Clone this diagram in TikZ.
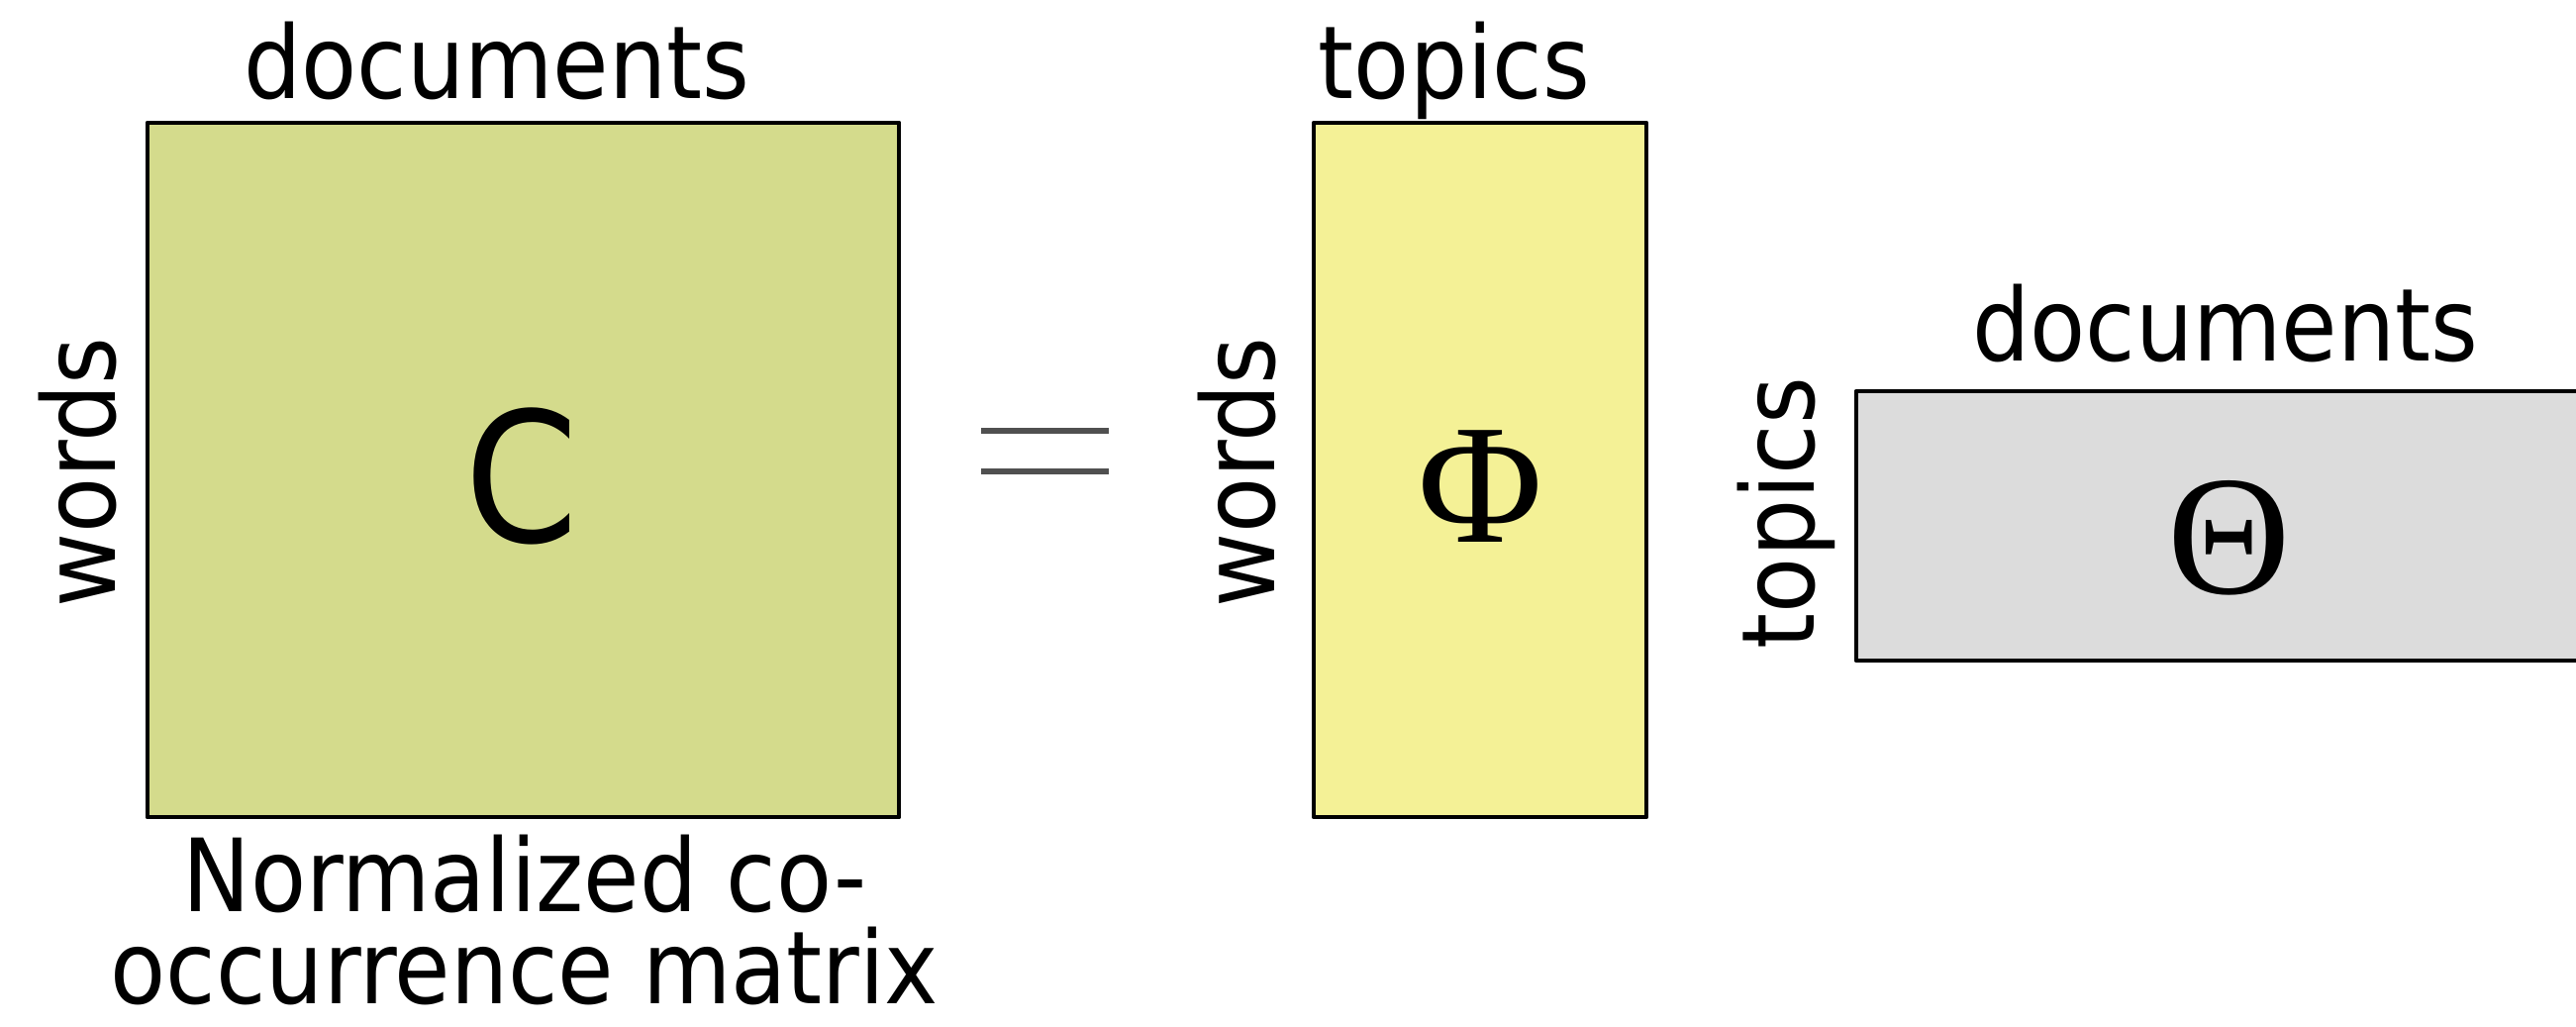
\documentclass[tikz,border=0pt]{standalone}
\usepackage{fontspec}
\setmainfont{DejaVu Sans Condensed}
\newfontfamily\greekfont{Liberation Serif}
\usetikzlibrary{positioning}

\definecolor{cfill}{HTML}{D4DB8C}
\definecolor{phifill}{HTML}{F4F196}
\definecolor{thetafill}{HTML}{DCDCDC}
\definecolor{eqgray}{HTML}{505050}

\tikzset{
  matbox/.style={draw=black, line width=1.2pt, rectangle, inner sep=0pt},
  lbl/.style={font=\fontsize{29}{26.5}\selectfont, inner sep=0pt},
  symb/.style={font=\fontsize{52}{60}\selectfont, inner sep=0pt},
  greek/.style={font=\greekfont\fontsize{49}{56}\selectfont, inner sep=0pt},
  eqline/.style={draw=eqgray, line width=1.7pt, line cap=butt}
}

\begin{document}
\begin{tikzpicture}[line cap=round,line join=round,x=0.01cm,y=-0.01cm]
  \useasboundingbox (0,0) rectangle (2602,1037);
  \clip (0,0) rectangle (2602,1037);

  % C = Phi Theta
  \node[matbox, fill=cfill, minimum width=7.59cm, minimum height=7.01cm] (C) at (528.5,474.5) {};
  \node[matbox, fill=phifill, minimum width=3.36cm, minimum height=7.01cm] (Phi) at (1495,474.5) {};
  \node[matbox, fill=thetafill, minimum width=7.8cm, minimum height=2.72cm] (Theta) at (2265,531) {};

  \node[symb] (csym) at (527,481) {C};
  \node[greek] (phisym) at (1495,491) {Φ};
  \node[greek] (thetasym) at (2252,543) {Θ};

  % axis labels
  \node[lbl, anchor=base] (cdocs) at (502,100) {documents};
  \node[lbl, anchor=base, rotate=90] (cwords) at (116,477) {words};
  \node[lbl, anchor=base] (phitopics) at (1469,100) {topics};
  \node[lbl, anchor=base, rotate=90] (phiwords) at (1287,477) {words};
  \node[lbl, anchor=base] (thetadocs) at (2248,365) {documents};
  \node[lbl, anchor=base, rotate=90] (thetatopics) at (1832,518) {topics};

  \node[lbl, align=center, anchor=base] (caption) at (530,1014) {Normalized co-\\occurrence matrix};

  % equals sign
  \draw[eqline] (991,435) -- (1120,435);
  \draw[eqline] (991,476) -- (1120,476);
\end{tikzpicture}
\end{document}
